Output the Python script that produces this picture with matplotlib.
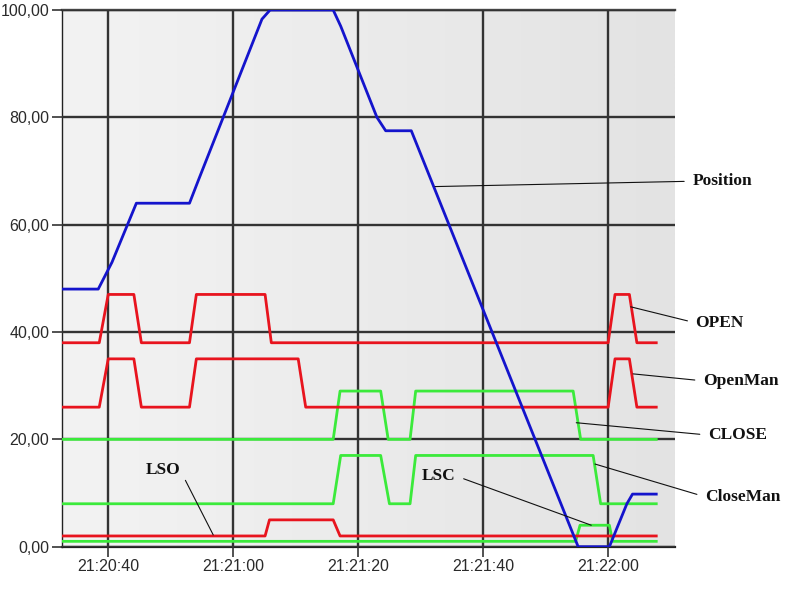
import numpy as np
import matplotlib
matplotlib.use("Agg")
import matplotlib.pyplot as plt
import matplotlib.dates as mdates
from matplotlib.colors import LinearSegmentedColormap
from matplotlib.ticker import FuncFormatter, MultipleLocator
import datetime as dt

# ---- data (seconds relative to 21:20:40) ----
base_time = "21:20:40"
x_start, x_end = -7.4, 90.7

position_t = [-7.4, -1.6, 0.6, 4.5, 13.0, 14.5, 24.6, 25.9, 36.0, 37.2, 43.0, 44.4, 48.5, 75.2, 80.2, 83.0, 83.9, 87.7]
position_v = [48, 48, 53, 64, 64, 68.5, 98.3, 100, 100, 97.0, 80.0, 77.5, 77.5, 0, 0, 8.0, 9.8, 9.8]

open_t = [-7.4, -1.44, 0, 4.1, 5.3, 13, 14.1, 25.1, 26.1, 80, 81.1, 83.4, 84.6, 87.7]
open_v = [38, 38, 47, 47, 38, 38, 47, 47, 38, 38, 47, 47, 38, 38]

openman_t = [-7.4, -1.44, 0, 4.1, 5.3, 13, 14.1, 30.4, 31.6, 80, 81.1, 83.4, 84.6, 87.7]
openman_v = [26, 26, 35, 35, 26, 26, 35, 35, 26, 26, 35, 35, 26, 26]

close_t = [-7.4, 36, 37.1, 43.6, 44.8, 48.3, 49.2, 74.4, 75.6, 87.7]
close_v = [20, 20, 29, 29, 20, 20, 29, 29, 20, 20]

closeman_t = [-7.4, 36, 37.2, 43.6, 45.0, 48.3, 49.2, 77.6, 78.8, 87.7]
closeman_v = [8, 8, 17, 17, 8, 8, 17, 17, 8, 8]

lso_t = [-7.4, 25.1, 25.8, 36, 37.1, 87.7]
lso_v = [2, 2, 5, 5, 2, 2]

lsc_t = [-7.4, 74.8, 75.5, 80.2, 80.7, 87.7]
lsc_v = [1, 1, 4, 4, 1, 1]

# label: (anchor t, anchor v, text t, text v, ha)
labels = {
    "Position": (52.3, 67.1, 93.5, 68.1, "left"),
    "OPEN": (83.6, 44.7, 94.0, 41.7, "left"),
    "OpenMan": (84.0, 32.2, 95.2, 30.9, "left"),
    "CLOSE": (74.9, 23.1, 96.0, 20.8, "left"),
    "CloseMan": (77.9, 15.4, 95.5, 9.3, "left"),
    "LSC": (77.3, 4.0, 55.6, 13.2, "right"),
    "LSO": (16.8, 2.2, 11.5, 14.3, "right"),
}

RED = "#e8141e"
GREEN = "#3bea3b"
BLUE = "#1414cc"

t0 = mdates.date2num(dt.datetime(2000, 1, 1, *map(int, base_time.split(":"))))


def tx(ts):
    return t0 + np.asarray(ts, dtype=float) / 86400.0


fig = plt.figure(figsize=(7.89, 5.91), dpi=100)
ax = fig.add_axes([62 / 789, 1 - 546.7 / 591, (675 - 62) / 789, (546.7 - 10) / 591])

cmap = LinearSegmentedColormap.from_list("bg", ["#f3f3f3", "#e3e3e3"])
ax.imshow(np.linspace(0, 1, 256)[None, :], cmap=cmap, extent=[0, 1, 0, 1],
          transform=ax.transAxes, aspect="auto", zorder=0)

lw = 2.0
ax.plot(tx(lsc_t), lsc_v, color=GREEN, lw=lw, zorder=3)
ax.plot(tx(lso_t), lso_v, color=RED, lw=lw, zorder=3)
ax.plot(tx(closeman_t), closeman_v, color=GREEN, lw=lw, zorder=3)
ax.plot(tx(close_t), close_v, color=GREEN, lw=lw, zorder=3)
ax.plot(tx(openman_t), openman_v, color=RED, lw=lw, zorder=3)
ax.plot(tx(open_t), open_v, color=RED, lw=lw, zorder=3)
ax.plot(tx(position_t), position_v, color=BLUE, lw=lw, zorder=4)

ax.set_xlim(tx(x_start), tx(x_end))
ax.set_ylim(0, 100)

ax.xaxis.set_major_locator(mdates.SecondLocator(bysecond=[0, 20, 40]))
ax.xaxis.set_major_formatter(mdates.DateFormatter("%H:%M:%S"))
ax.yaxis.set_major_locator(MultipleLocator(20))
ax.yaxis.set_major_formatter(FuncFormatter(lambda v, p: f"{v:.2f}".replace(".", ",")))

ax.grid(True, color="#333333", lw=1.7, zorder=1)
ax.set_axisbelow(False)
for gl in ax.get_xgridlines() + ax.get_ygridlines():
    gl.set_zorder(1)

ax.tick_params(axis="both", direction="out", length=7, width=1.2, color="#333333",
               labelsize=11.5, labelcolor="#2a2a2a", pad=2)
for lab in ax.get_xticklabels() + ax.get_yticklabels():
    lab.set_fontfamily("Liberation Sans")

ax.spines["right"].set_visible(False)
ax.spines["top"].set_color("#444444")
ax.spines["top"].set_linewidth(1.7)
ax.spines["left"].set_color("#222222")
ax.spines["left"].set_linewidth(1.0)
ax.spines["bottom"].set_color("#222222")
ax.spines["bottom"].set_linewidth(1.6)

for name, (at, av, tt, tv, ha) in labels.items():
    relpos = (0.0, 0.5) if ha == "left" else (1.0, 0.5)
    ax.annotate(name, xy=(tx(at), av), xytext=(tx(tt), tv), textcoords="data",
                ha=ha, va="center", fontsize=12.5, fontweight="bold",
                family="Liberation Serif", color="#111111", annotation_clip=False,
                arrowprops=dict(arrowstyle="-", color="#111111", lw=0.8,
                                relpos=relpos, shrinkA=4, shrinkB=0),
                zorder=5)

fig.savefig("out.png", dpi=100)
